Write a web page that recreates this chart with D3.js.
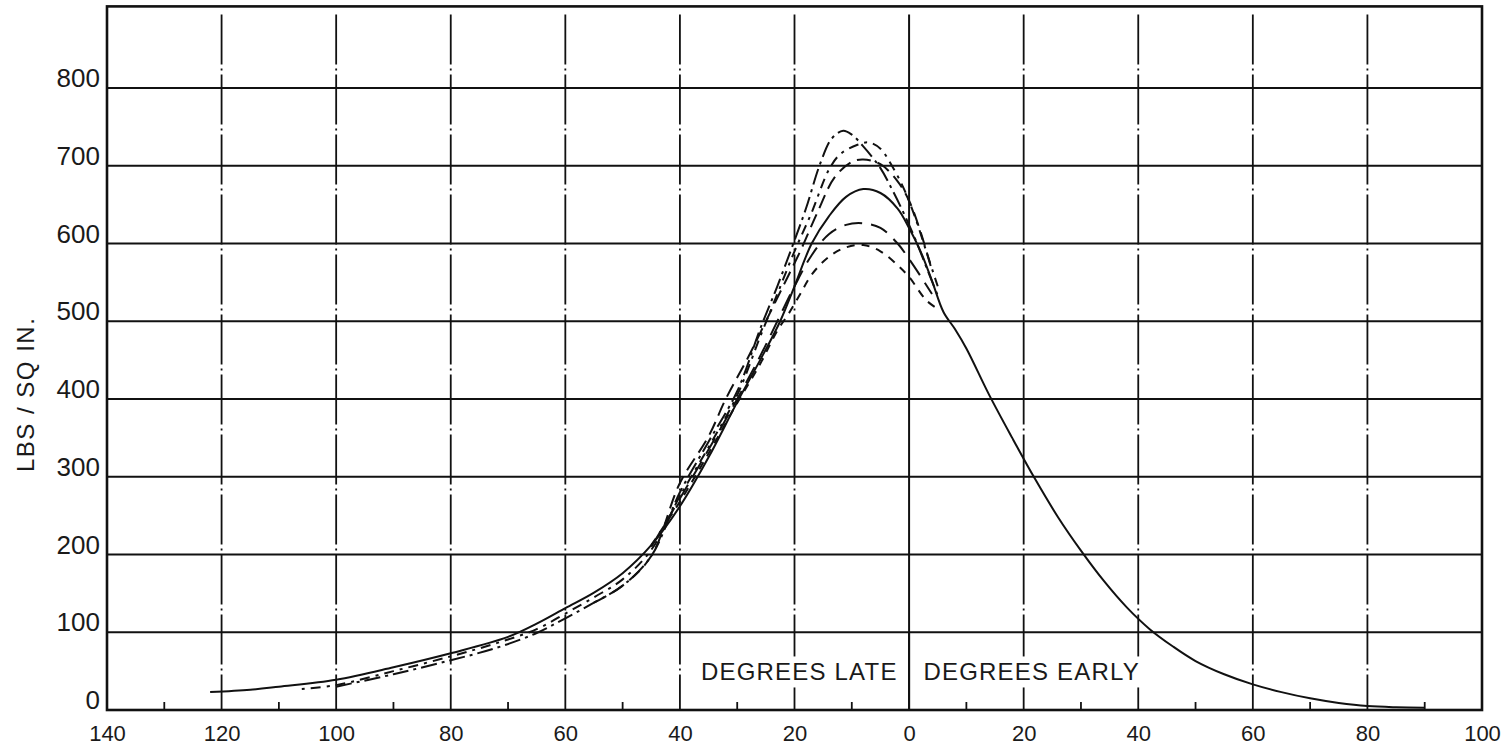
<!DOCTYPE html>
<html>
<head>
<meta charset="utf-8">
<script src="https://cdn.jsdelivr.net/npm/d3@7"></script>
<style>
  html, body { margin: 0; padding: 0; background: #fff; }
  svg { display: block; }
  text { font-family: "Liberation Sans", Arial, sans-serif; fill: #1a1a1a; }
</style>
</head>
<body>
<svg id="chart" width="1507" height="746"></svg>
<script>
// Crank angle in degrees: negative = late, positive = early.
const xTicks = [-140, -120, -100, -80, -60, -40, -20, 0, 20, 40, 60, 80, 100];
const xTickLabels = ["140", "120", "100", "80", "60", "40", "20", "0", "20", "40", "60", "80", "100"];
const xMinorTicks = [-130, -110, -90, -70, -50, -30, -10, 10, 30, 50, 70, 90];
const yTicks = [0, 100, 200, 300, 400, 500, 600, 700, 800];
const yTickLabels = ["0", "100", "200", "300", "400", "500", "600", "700", "800"];

// Pressure (lbs / sq in.) shared by every trace after they converge early.
const commonTail = [
  [6, 512], [8, 490], [10, 465], [14, 405], [18, 350], [22, 297], [26, 248],
  [30, 205], [34, 166], [38, 132], [42, 104], [46, 82], [50, 63], [55, 46],
  [60, 33], [65, 23], [70, 15], [75, 9], [80, 5], [85, 3.5], [90, 3]
];
// Low-pressure starts of the broken-line traces.
const leadDotted = [
  [-106, 27], [-100, 32], [-90, 50], [-80, 69], [-72, 86], [-65, 104], [-60, 124],
  [-55, 145], [-50, 168], [-45, 206]
];
const leadDashed = [
  [-100, 30], [-90, 46], [-80, 64], [-72, 80], [-65, 99], [-60, 118],
  [-55, 138], [-50, 160], [-45, 198]
];

// Individual traces through the firing peak.
const traceSolid = [
  [-122, 23], [-115, 26], [-110, 30], [-100, 39], [-90, 55], [-80, 73], [-70, 94],
  [-65, 111], [-60, 131], [-55, 151], [-50, 176], [-45, 212], [-40, 262], [-35, 325],
  [-30, 396], [-26, 450], [-22.5, 500], [-20, 545], [-17, 600], [-14, 635], [-11, 660],
  [-8, 670], [-5, 665], [-2, 645], [0, 620], [2, 590], [4, 552]
];
const traceA = [
  [-40, 280], [-35, 345], [-30, 410], [-26, 490], [-23, 545], [-20, 604], [-18, 645],
  [-15.5, 703], [-13.5, 735], [-11.5, 745], [-10, 740], [-8, 725], [-5, 697], [-3, 670],
  [-1, 640], [1, 607], [3, 570], [5, 533]
];
const traceB = [
  [-40, 275], [-35, 338], [-30, 405], [-26, 480], [-23, 535], [-20, 590], [-17, 640],
  [-14, 695], [-12, 715], [-9, 727], [-7, 730], [-5, 722], [-3, 700], [-1, 672],
  [1, 635], [3, 590], [5, 545]
];
const traceC = [
  [-40, 292], [-35, 352], [-32, 400], [-28, 455], [-25, 500], [-22, 545], [-19, 590],
  [-16, 640], [-13, 685], [-10, 705], [-8, 708], [-5, 702], [-2, 680], [0, 655],
  [2, 615], [4, 565]
];
const traceE = [
  [-45, 210], [-40, 272], [-35, 335], [-30, 400], [-26, 455], [-23, 500], [-20, 545],
  [-17, 585], [-14, 612], [-11, 624], [-8, 626], [-5, 620], [-2, 600], [0, 580],
  [2, 558], [4, 535]
];
const traceF = [
  [-45, 212], [-40, 268], [-35, 330], [-30, 395], [-26, 445], [-23, 488], [-21, 510],
  [-19, 535], [-17, 560], [-14, 583], [-11, 595], [-8, 598], [-5, 590], [-2, 572],
  [0, 557], [3, 527], [5, 516]
];

const svg = d3.select("#chart");
const x = d3.scaleLinear().domain([-140, 100]).range([107, 1482]);
const y = d3.scaleLinear().domain([0, 905]).range([710, 6.4]);

const ink = "#111";

// Horizontal grid (solid)
svg.append("g").selectAll("line")
  .data(yTicks.filter(v => v > 0))
  .join("line")
  .attr("x1", x(-140)).attr("x2", x(100))
  .attr("y1", d => y(d)).attr("y2", d => y(d))
  .attr("stroke", ink).attr("stroke-width", 2);

// Vertical grid (broken)
svg.append("g").selectAll("line")
  .data(xTicks.filter(v => v > -140 && v < 100))
  .join("line")
  .attr("x1", d => x(d)).attr("x2", d => x(d))
  .attr("y1", y(905) + 8).attr("y2", y(0))
  .attr("stroke", ink).attr("stroke-width", d => d === 0 ? 2 : 1.8)
  .attr("stroke-dasharray", d => d === 0 ? null : "50,4,2,4");

// Minor ticks on the degree axis
svg.append("g").selectAll("line")
  .data(xMinorTicks)
  .join("line")
  .attr("x1", d => x(d)).attr("x2", d => x(d))
  .attr("y1", y(0)).attr("y2", y(0) - 8)
  .attr("stroke", ink).attr("stroke-width", 1.8);

// Late / early captions with a clear band behind them
const captionLayer = svg.append("g");
const captions = [
  { text: "DEGREES LATE", anchor: "end", at: -2 },
  { text: "DEGREES EARLY", anchor: "start", at: 2.5 }
];
captions.forEach(c => {
  const bg = captionLayer.append("rect").attr("fill", "#fff");
  const t = captionLayer.append("text")
    .attr("x", x(c.at)).attr("y", y(38))
    .attr("text-anchor", c.anchor)
    .style("font-size", "24px")
    .style("letter-spacing", "1.2px")
    .text(c.text);
  const b = t.node().getBBox();
  bg.attr("x", b.x - 3).attr("y", b.y - 2)
    .attr("width", b.width + 6).attr("height", b.height + 4);
});
// zero line separating the captions
svg.append("line")
  .attr("x1", x(0)).attr("x2", x(0)).attr("y1", y(100)).attr("y2", y(0))
  .attr("stroke", ink).attr("stroke-width", 2);

// Frame
svg.append("rect")
  .attr("x", x(-140)).attr("y", y(905))
  .attr("width", x(100) - x(-140)).attr("height", y(0) - y(905))
  .attr("fill", "none").attr("stroke", ink).attr("stroke-width", 2.6);

// Axis labels
const xAxis = d3.axisBottom(x).tickValues(xTicks)
  .tickFormat((d, i) => xTickLabels[i]).tickSize(0).tickPadding(15);
const gx = svg.append("g").attr("transform", `translate(0,${y(0)})`).call(xAxis);
gx.select(".domain").remove();
gx.selectAll("text")
  .style("font-size", "22px")
  .style("font-family", "\"Liberation Sans\", Arial, sans-serif")
  .attr("fill", "#1a1a1a");

const yAxis = d3.axisLeft(y).tickValues(yTicks)
  .tickFormat((d, i) => yTickLabels[i]).tickSize(0).tickPadding(7);
const gy = svg.append("g").attr("transform", `translate(${x(-140)},0)`).call(yAxis);
gy.select(".domain").remove();
gy.selectAll("text")
  .attr("dy", "-0.05em")
  .style("font-size", "26px")
  .style("font-family", "\"Liberation Sans\", Arial, sans-serif")
  .attr("fill", "#1a1a1a");

svg.append("text")
  .attr("transform", `translate(34,${y(406)}) rotate(-90)`)
  .attr("text-anchor", "middle")
  .style("font-size", "24px")
  .style("letter-spacing", "1.5px")
  .text("LBS / SQ IN.");

// Pressure traces
const line = d3.line()
  .x(d => x(d[0])).y(d => y(d[1]))
  .curve(d3.curveCatmullRom.alpha(0.5));

const traces = [
  { pts: traceSolid.concat(commonTail), dash: null },
  { pts: leadDashed.concat(traceA), dash: "16,5,3,5" },
  { pts: leadDotted.concat(traceB), dash: "3,6,10,6" },
  { pts: leadDashed.slice(-3).concat(traceC), dash: "14,7" },
  { pts: traceE, dash: "18,9" },
  { pts: traceF, dash: "8,7" }
];

svg.append("g").selectAll("path")
  .data(traces)
  .join("path")
  .attr("d", d => line(d.pts))
  .attr("fill", "none")
  .attr("stroke", ink)
  .attr("stroke-width", 2)
  .attr("stroke-dasharray", d => d.dash);
</script>
</body>
</html>
